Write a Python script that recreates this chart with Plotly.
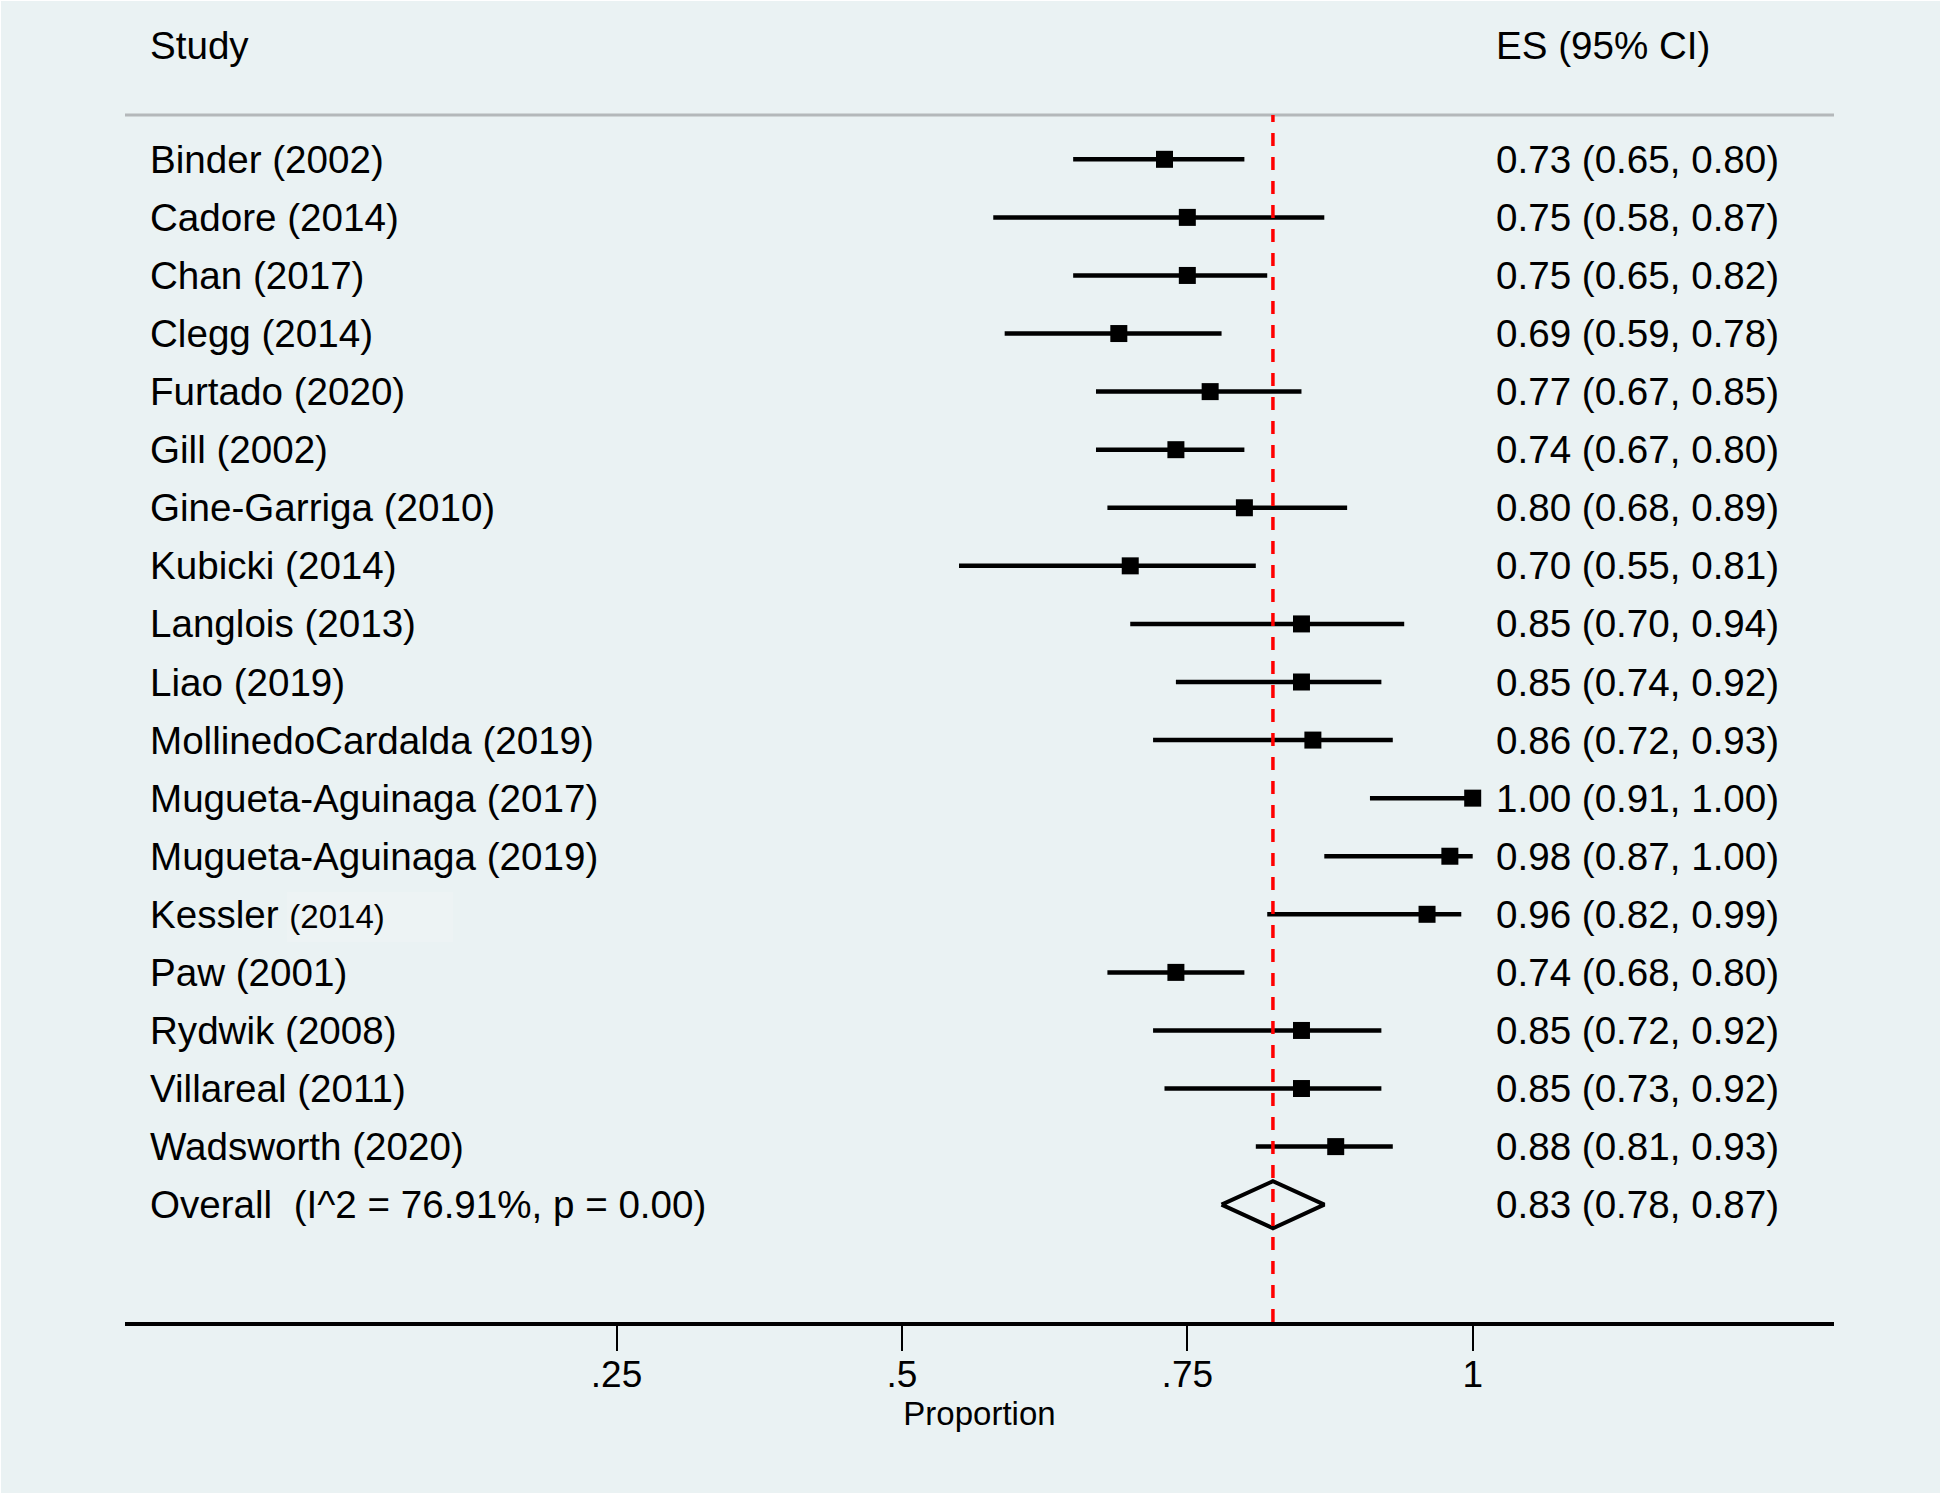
import plotly.graph_objects as go

# ---------------- data ----------------
studies = ["Binder (2002)", "Cadore (2014)", "Chan (2017)", "Clegg (2014)", "Furtado (2020)",
           "Gill (2002)", "Gine-Garriga (2010)", "Kubicki (2014)", "Langlois (2013)", "Liao (2019)",
           "MollinedoCardalda (2019)", "Mugueta-Aguinaga (2017)", "Mugueta-Aguinaga (2019)",
           "Kessler (2014)", "Paw (2001)", "Rydwik (2008)", "Villareal (2011)", "Wadsworth (2020)"]
es = [0.73, 0.75, 0.75, 0.69, 0.77, 0.74, 0.80, 0.70, 0.85, 0.85, 0.86, 1.00, 0.98, 0.96, 0.74, 0.85, 0.85, 0.88]
ci_low = [0.65, 0.58, 0.65, 0.59, 0.67, 0.67, 0.68, 0.55, 0.70, 0.74, 0.72, 0.91, 0.87, 0.82, 0.68, 0.72, 0.73, 0.81]
ci_high = [0.80, 0.87, 0.82, 0.78, 0.85, 0.80, 0.89, 0.81, 0.94, 0.92, 0.93, 1.00, 1.00, 0.99, 0.80, 0.92, 0.92, 0.93]

overall_label = "Overall\u00a0 (I^2 = 76.91%, p = 0.00)"
overall_es = 0.825
overall_low = 0.78
overall_high = 0.87
overall_es_text = "0.83 (0.78, 0.87)"

tick_vals = [0.25, 0.5, 0.75, 1.0]
tick_text = [".25", ".5", ".75", "1"]
x_title = "Proportion"
header_left = "Study"
header_right = "ES (95% CI)"

# ---------------- layout constants ----------------
W, H = 1946, 1498
FONT = "Liberation Sans, Arial, Helvetica, sans-serif"
FS = 38.6
BG = "#EAF2F3"
rows = list(range(len(studies)))
overall_row = len(studies)

fig = go.Figure()

# CI lines
xs, ys = [], []
for r, lo, hi in zip(rows, ci_low, ci_high):
    xs += [lo, hi, None]
    ys += [r, r, None]
fig.add_trace(go.Scatter(x=xs, y=ys, mode="lines", line=dict(color="black", width=4.5),
                         hoverinfo="skip", showlegend=False))
# point estimates
fig.add_trace(go.Scatter(x=es, y=rows, mode="markers",
                         marker=dict(symbol="square", size=17, color="black", line=dict(width=0)),
                         showlegend=False))
# overall diamond
dh = 0.405
fig.add_trace(go.Scatter(
    x=[overall_low, overall_es, overall_high, overall_es, overall_low],
    y=[overall_row, overall_row - dh, overall_row, overall_row + dh, overall_row],
    mode="lines", line=dict(color="black", width=4), showlegend=False))

# ---------------- background & lines ----------------
shapes = [
    dict(type="rect", xref="paper", yref="paper", x0=1 / W, x1=1940 / W, y0=1 - 1493 / H, y1=1 - 1 / H,
         fillcolor=BG, line=dict(width=0), layer="below"),
    dict(type="rect", xref="paper", yref="paper", x0=287 / W, x1=453 / W, y0=1 - 942 / H, y1=1 - 892 / H,
         fillcolor="#EDF3F4", line=dict(width=0), layer="below"),
    # top gray rule
    dict(type="line", xref="x domain", yref="y domain", x0=0, x1=1, y0=1, y1=1,
         line=dict(color="#B4B8BA", width=3)),
    # overall dashed red line
    dict(type="line", xref="x", yref="y domain", x0=overall_es, x1=overall_es, y0=0, y1=1,
         line=dict(color="#FF0000", width=3.5, dash="13px,11px")),
]

def ann(x, y, text, yref="y", size=FS):
    return dict(x=x, xref="paper", y=y, yref=yref, text=text, showarrow=False,
                xanchor="left", yanchor="middle", font=dict(size=size, color="black", family=FONT))

annotations = []
for r, name in zip(rows, studies):
    txt = name
    if name.startswith("Kessler"):
        txt = "Kessler <span style='font-size:33px'>(2014)</span>"
    annotations.append(ann(148 / W, r, txt))
for r, e, lo, hi in zip(rows, es, ci_low, ci_high):
    annotations.append(ann(1494 / W, r, f"{e:.2f} ({lo:.2f}, {hi:.2f})"))
annotations.append(ann(148 / W, overall_row, overall_label))
annotations.append(ann(1494 / W, overall_row, overall_es_text))
annotations.append(ann(148 / W, 1 - 45 / H, header_left, yref="paper"))
annotations.append(ann(1494 / W, 1 - 45 / H, header_right, yref="paper"))

fig.update_layout(
    width=W, height=H,
    margin=dict(l=0, r=0, t=0, b=0),
    paper_bgcolor="white",
    plot_bgcolor="rgba(0,0,0,0)",
    shapes=shapes,
    annotations=annotations,
    showlegend=False,
    hovermode=False,
    xaxis=dict(domain=[125 / W, 1834 / W], range=[-0.1806, 1.3165],
               tickvals=tick_vals, ticktext=tick_text, ticks="outside", ticklen=25, tickwidth=2,
               tickcolor="black", showline=True, linecolor="black", linewidth=3.5,
               showgrid=False, zeroline=False, ticklabelstandoff=-8,
               tickfont=dict(size=37, color="black", family=FONT),
               title=dict(text=x_title, font=dict(size=33, color="black", family=FONT), standoff=2)),
    yaxis=dict(domain=[1 - 1322 / H, 1 - 115 / H], range=[20.02, -0.763],
               visible=False, showgrid=False, zeroline=False),
)

fig.write_html("out.html", config={"displayModeBar": False},
               post_script="document.body.style.margin='0';document.body.style.padding='0';"
                           "document.body.style.overflow='hidden';")
